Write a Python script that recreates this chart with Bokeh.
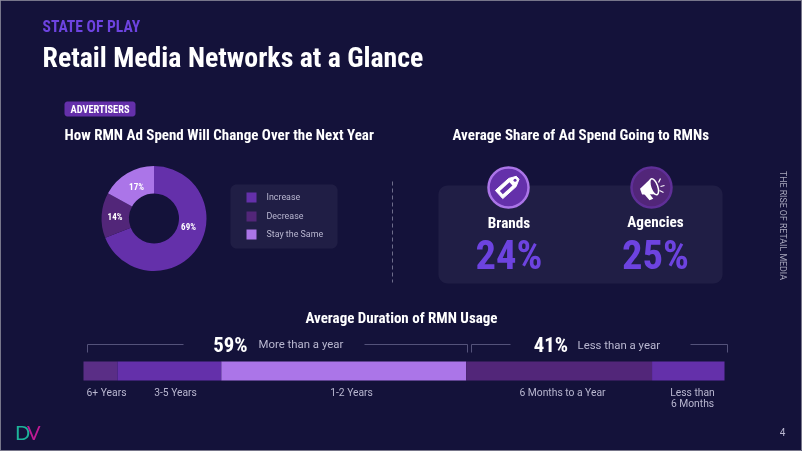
from bokeh.plotting import figure
from bokeh.models import Range1d
from bokeh.core.properties import value
from bokeh.embed import file_html
from bokeh.resources import INLINE
import math

# ---- data ----
donut_labels = ["Increase", "Decrease", "Stay the Same"]
donut_values = [69, 14, 17]
share_labels = ["Brands", "Agencies"]
share_values = [24, 25]
duration_labels = ["6+ Years", "3-5 Years", "1-2 Years", "6 Months to a Year", "Less than\n6 Months"]
duration_values = [5.3, 16.2, 38.2, 29.0, 11.3]
group_values = [59, 41]
group_labels = ["More than a year", "Less than a year"]

# ---- palette ----
BG = "#14123a"; PANEL = "#201e45"; INC = "#6430aa"; DEC = "#522679"; STAY = "#ab75e8"
ACC = "#6d43e0"; SOFT = "#b9b7d0"; RULE = "#54527a"
COND = "Roboto Condensed, Roboto"
W, H = 802, 451

p = figure(width=W, height=H, x_range=Range1d(0, W), y_range=Range1d(H, 0),
           output_backend="svg", toolbar_location=None, min_border=0,
           background_fill_color=BG, border_fill_color=BG,
           outline_line_color="#77768a", outline_line_width=1)
p.xaxis.visible = False
p.yaxis.visible = False
p.grid.visible = False
p.styles = {"position": "fixed", "left": "0", "top": "0"}

# percentage scale for the stacked bar: 0..100 spans the bar's width
BAR_L, BAR_R = 83, 724
span = BAR_R - BAR_L
p.extra_x_ranges["share"] = Range1d(-BAR_L / span * 100, (W - BAR_L) / span * 100)


def txt(x, y, s, size, color="#ffffff", font="Roboto", style="normal", align="left", angle=0):
    p.text([x], [y], text=[s], text_font=value(font), text_font_size=f"{size}px",
           text_font_style=style, text_color=color, text_align=align,
           text_baseline="middle", angle=angle)


def rounded(l, t, r, b, rad, color):
    xs, ys = [], []
    for cx, cy, a0 in [(r - rad, t + rad, -90), (r - rad, b - rad, 0), (l + rad, b - rad, 90), (l + rad, t + rad, 180)]:
        for k in range(9):
            a = math.radians(a0 + k * 90 / 8)
            xs.append(cx + rad * math.cos(a)); ys.append(cy + rad * math.sin(a))
    p.patch(xs, ys, fill_color=color, line_color=None)


def turned(ox, oy, deg, pts):
    a = math.radians(deg)
    return ([ox + u * math.cos(a) - w * math.sin(a) for u, w in pts],
            [oy + u * math.sin(a) + w * math.cos(a) for u, w in pts])


# header
txt(42, 26, "STATE OF PLAY", 15.6, ACC, COND, "bold")
txt(42, 57, "Retail Media Networks at a Glance", 27.8, "#ffffff", COND, "bold")
rounded(64, 101, 135, 116, 3, INC)
txt(70, 109, "ADVERTISERS", 10.4, "#ffffff", COND, "bold")
txt(64, 134, "How RMN Ad Spend Will Change Over the Next Year", 15, "#ffffff", COND, "bold")
txt(452, 134, "Average Share of Ad Spend Going to RMNs", 15, "#ffffff", COND, "bold")
txt(401, 317, "Average Duration of RMN Usage", 15, "#ffffff", COND, "bold", "center")

# donut
CX, CY, R0, R1 = 153.5, 218, 25, 52.5
colors = [INC, DEC, STAY]
cum = 0
starts, ends = [], []
for v in donut_values:
    starts.append(math.pi / 2 - cum / 100 * 2 * math.pi)
    cum += v
    ends.append(math.pi / 2 - cum / 100 * 2 * math.pi)
p.annular_wedge([CX] * 3, [CY] * 3, R0, R1, start_angle=ends, end_angle=starts,
                fill_color=colors, line_color=None)
for (x, y), v in zip([(188, 226), (114.5, 216), (136, 186)], donut_values):
    txt(x, y, f"{v}%", 9, "#ffffff", COND, "bold", "center")

# legend
rounded(230, 184, 337, 248, 6, PANEL)
for lab, c, y in zip(donut_labels, colors, [197, 216, 234]):
    p.rect([251], [y], 10, 10, fill_color=c, line_color=None)
    txt(266, y - 0.5, lab, 8.9, SOFT)

# divider
p.line([392, 392], [181, 282], line_color="#6d6c8a", line_dash="4 3", line_width=1)

# share panel
rounded(438, 185, 722, 283, 9, PANEL)
for cx, cy, fill, ring, lab, v, tx, ty in [(508, 187, INC, STAY, share_labels[0], share_values[0], 508.5, 222),
                                           (651, 187, DEC, "#5f2f97", share_labels[1], share_values[1], 655, 221)]:
    p.scatter([cx], [cy], size=40, marker="circle", fill_color=fill, line_color=ring, line_width=2.5)
    txt(tx, ty, lab, 15.2, "#ffffff", COND, "bold", "center")
    txt(tx, 254, f"{v}%", 40.6, ACC, COND, "bold", "center")

# tag icon
tx, ty, tilt = 507.5, 186, -42
xs, ys = turned(tx, ty, tilt, [(-12, -5.5), (6, -5.5), (13, -2), (13, 2), (6, 5.5), (-12, 5.5)])
p.patch(xs, ys, fill_color="#ffffff", line_color="#ffffff", line_width=1, line_join="round")
xs, ys = turned(tx, ty, tilt, [(-9, -2.2), (4, -2.2), (4, 2.2), (-9, 2.2)])
p.patch(xs, ys, fill_color=INC, line_color=None)
xs, ys = turned(tx, ty, tilt, [(9.5, 0)])
p.scatter(xs, ys, size=3, marker="circle", fill_color=INC, line_color=None)

# megaphone icon
mx, my, tilt = 649, 188, -20
xs, ys = turned(mx, my, tilt, [(-9, -3), (5, -9), (5, 8), (-9, 3)])
p.patch(xs, ys, fill_color="#ffffff", line_color=None)
xs, ys = turned(mx, my, tilt, [(-7, 3), (-2, 4), (0, 11), (-4, 11)])
p.patch(xs, ys, fill_color="#ffffff", line_color=None)
xs, ys = turned(mx, my, tilt, [(5, 0)])
p.ellipse(xs, ys, 7, 17, angle=math.radians(20), fill_color=DEC, line_color="#ffffff", line_width=1.5)
for dx0, dy0, dx1, dy1 in [(9, -6, 11, -10), (11, -2, 15, -3), (10, 2, 14, 4)]:
    p.line([mx + dx0, mx + dx1], [my + dy0, my + dy1], line_color="#ffffff", line_width=1.2)

# vertical side text
txt(782, 225, "THE RISE OF RETAIL MEDIA", 8.8, "#a9a8bd", "Roboto", "normal", "center", angle=-math.pi / 2)

# brackets
for xs, ys in [([87, 87, 183], [352, 344, 344]), ([364, 467, 467], [344, 344, 352]),
               ([471, 471, 510], [352, 344, 344]), ([690, 727, 727], [344, 344, 352])]:
    p.line(xs, ys, line_color=RULE, line_width=1)
txt(230, 344, f"{group_values[0]}%", 20.8, "#ffffff", COND, "bold", "center")
txt(258, 343, group_labels[0], 11.4, SOFT)
txt(550.5, 344, f"{group_values[1]}%", 20.8, "#ffffff", COND, "bold", "center")
txt(577, 344, group_labels[1], 11.4, SOFT)

# stacked bar
bar_colors = ["#5a2e86", INC, STAY, DEC, INC]
cum = 0
lefts, rights = [], []
for v in duration_values:
    lefts.append(cum); cum += v; rights.append(cum)
p.hbar(y=[370.5] * 5, left=lefts, right=rights, height=19, fill_color=bar_colors, line_color=None, x_range_name="share")
for lab, x in zip(duration_labels, [106, 175, 351, 562, 692]):
    for i, line in enumerate(lab.split("\n")):
        txt(x, 392 + 11 * i, line, 10.3, SOFT, "Roboto", "normal", "center")

# footer
txt(14.5, 431, "D", 20, "#1db39a", "Lato")
txt(26.5, 431, "V", 20, "#c01a94", "Lato")
txt(782, 431, "4", 10, SOFT, "Roboto", "normal", "center")

open("out.html", "w").write(file_html(p, INLINE))
